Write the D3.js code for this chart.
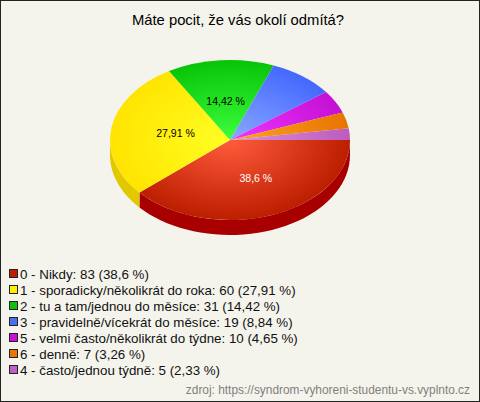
<!DOCTYPE html>
<html><head><meta charset="utf-8">
<script src="https://cdn.jsdelivr.net/npm/d3@7"></script>
<style>html,body{margin:0;padding:0;background:#f5f4ec}svg{display:block;font-family:"Liberation Sans",Arial,sans-serif}</style>
</head><body><div id="c"></div>
<script>
const title = "Máte pocit, že vás okolí odmítá?";
const categories = ["0 - Nikdy","1 - sporadicky/několikrát do roka","2 - tu a tam/jednou do měsíce","3 - pravidelně/vícekrát do měsíce","5 - velmi často/několikrát do týdne","6 - denně","4 - často/jednou týdně"];
const counts = [83,60,31,19,10,7,5];
const percents = ["38,6","27,91","14,42","8,84","4,65","3,26","2,33"];
const swatchColors = ["#c01c00","#ffee00","#10c010","#4a70f0","#c810d8","#e87800","#c060c0"];
const innerColors = ["#ff5c3c","#ffff24","#3cff3c","#8aa8ff","#f034ff","#ffa424","#dc90dc"];
const outerColors = ["#bc1e00","#ffe400","#08c408","#4468ff","#c410d4","#e87400","#bc5cbc"];
const sideColors = ["#a80000","#e2c800","#0a9a0a","#3050c0","#9a0aa8","#b85a00","#904890"];
const shownLabels = [true,true,true,false,false,false,false];
const labelColors = ["#ffffff","#000000","#000000","#000000","#000000","#000000","#000000"];
const source = "zdroj: https://syndrom-vyhoreni-studentu-vs.vyplnto.cz";

const W=480,H=402,cx=230,cy=140,rx=120,ry=80,depth=15;
const svg=d3.select("#c").append("svg").attr("width",W).attr("height",H);
svg.append("rect").attr("x",0.5).attr("y",0.5).attr("width",W-1).attr("height",H-1).attr("fill","#f5f4ec").attr("stroke","#222");
svg.append("text").attr("x",238).attr("y",25).attr("text-anchor","middle").attr("font-size",14.8).attr("fill","#000").text(title);

const defs=svg.append("defs");
counts.forEach((_,i)=>{
  const g=defs.append("radialGradient").attr("id","g"+i).attr("gradientUnits","userSpaceOnUse").attr("cx",0).attr("cy",0).attr("r",rx);
  g.append("stop").attr("offset","0%").attr("stop-color",innerColors[i]);
  g.append("stop").attr("offset","100%").attr("stop-color",outerColors[i]);
});
const pie=d3.pie().sort(null).startAngle(Math.PI/2).endAngle(Math.PI*2.5);
const arcs=pie(counts);
const arc=d3.arc().innerRadius(0).outerRadius(rx);
const sy=ry/rx;

const wall=svg.append("g").attr("transform",`translate(${cx},${cy})`);
arcs.forEach((a,i)=>{
  const s=Math.max(a.startAngle,Math.PI/2), e=Math.min(a.endAngle,Math.PI*1.5);
  if(e<=s) return;
  const pts=d3.range(0,41).map(k=>s+(e-s)*k/40);
  const upper=pts.map(t=>[rx*Math.sin(t),-ry*Math.cos(t)]);
  const lower=pts.slice().reverse().map(t=>[rx*Math.sin(t),-ry*Math.cos(t)+depth]);
  wall.append("path").attr("d",d3.line()(upper.concat(lower))+"Z").attr("fill",sideColors[i]);
});
const face=svg.append("g").attr("transform",`translate(${cx},${cy}) scale(1,${sy})`);
face.selectAll("path").data(arcs).join("path").attr("d",arc).attr("fill",(d,i)=>`url(#g${i})`);

const lab=svg.append("g").attr("transform",`translate(${cx},${cy})`);
arcs.forEach((a,i)=>{
  if(!shownLabels[i])return;
  const m=(a.startAngle+a.endAngle)/2;
  const nudgeX=i===0?6.5:0, nudgeY=i===0?3:0;
  lab.append("text").attr("x",rx*0.46*Math.sin(m)+nudgeX).attr("y",-ry*0.48*Math.cos(m)+3+nudgeY)
    .attr("text-anchor","middle").attr("font-size",10.5).attr("fill",labelColors[i]).text(percents[i]+" %");
});

const leg=svg.append("g");
categories.forEach((c,i)=>{
  const y=274+i*16;
  leg.append("rect").attr("x",9.5).attr("y",y-4.5).attr("width",8).attr("height",8).attr("fill",swatchColors[i]).attr("stroke","#222");
  leg.append("text").attr("x",20).attr("y",y+4.5).attr("font-size",13.33).attr("fill","#111").text(`${c}: ${counts[i]} (${percents[i]} %)`);
});
svg.append("text").attr("x",470).attr("y",394).attr("text-anchor","end").attr("font-size",11.9).attr("fill","#808080").text(source);
</script></body></html>
